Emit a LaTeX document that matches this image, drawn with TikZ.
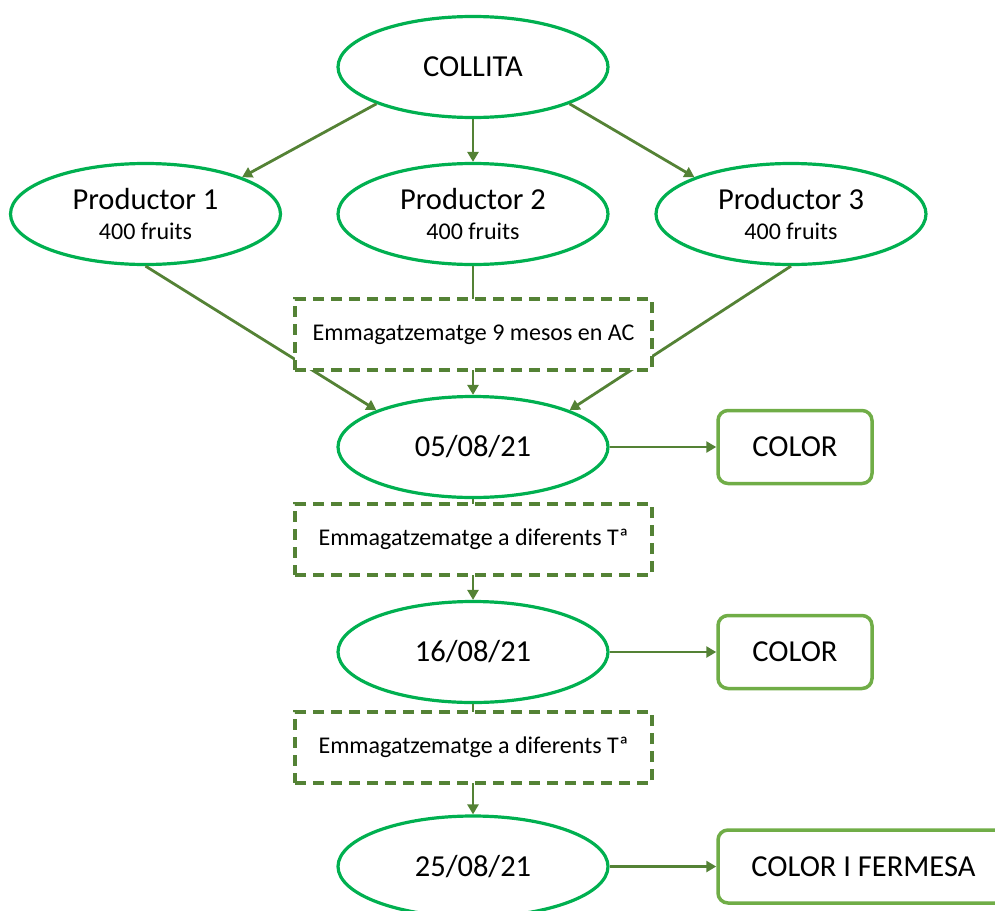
\documentclass[tikz,border=0pt]{standalone}
\usepackage{fontspec}
\setmainfont{Carlito}
\usetikzlibrary{shapes.geometric,arrows.meta}
\definecolor{ellgreen}{HTML}{00B050}
\definecolor{boxgreen}{HTML}{70AD47}
\definecolor{arrgreen}{HTML}{548235}
\tikzset{
  ell/.style={ellipse, draw=ellgreen, line width=3.2pt, fill=white,
    minimum width=270pt, minimum height=101pt, inner sep=0pt,
    font=\fontsize{30.5}{30}\selectfont, align=center},
  prod/.style={ell, font=\fontsize{24}{30}\selectfont},
  dbox/.style={draw=arrgreen, line width=3.2pt, dash pattern=on 11pt off 7pt,
    fill=white, minimum width=357pt, minimum height=71pt, inner sep=0pt,
    font=\fontsize{24}{28}\selectfont},
  rbox/.style={draw=boxgreen, line width=3.5pt, rounded corners=10pt, fill=white,
    minimum height=73pt, inner sep=0pt, font=\fontsize{30.5}{36}\selectfont},
  conn/.style={draw=arrgreen, line width=2.8pt},
  arr/.style={conn, -{Triangle[length=10pt,width=11pt]}}
}
\begin{document}
\begin{tikzpicture}[x=1pt,y=-1pt]
\useasboundingbox (0,0) rectangle (995,910);
% ellipses
\node[ell] (col) at (473,67) {COLLITA};
\node[prod] (p1) at (145.5,214) {{\fontsize{30.5}{30}\selectfont Productor 1}\\400 fruits};
\node[prod] (p2) at (473,214) {{\fontsize{30.5}{30}\selectfont Productor 2}\\400 fruits};
\node[prod] (p3) at (791,214) {{\fontsize{30.5}{30}\selectfont Productor 3}\\400 fruits};
\node[ell] (d1) at (473,447) {05/08/21};
\node[ell] (d2) at (473,652) {16/08/21};
\node[ell] (d3) at (473,866.5) {25/08/21};
% result boxes
\node[rbox, minimum width=154pt] (c1) at (795,447) {COLOR};
\node[rbox, minimum width=154pt] (c2) at (795,652) {COLOR};
\node[rbox, minimum width=291pt] (c3) at (863.5,866.5) {COLOR I FERMESA};
% connectors
\draw[arr] (col.south west) -- (p1.north east);
\draw[arr] (col.south) -- (p2.north);
\draw[arr] (col.south east) -- (p3.north west);
\draw[arr] (p1.south) -- (d1.north west);
\draw[arr] (p2.south) -- (d1.north);
\draw[arr] (p3.south) -- (d1.north east);
\draw[arr] (d1.south) -- (d2.north);
\draw[arr] (d2.south) -- (d3.north);
\draw[arr] (d1.east) -- (c1.west);
\draw[arr] (d2.east) -- (c2.west);
\draw[arr] (d3.east) -- (c3.west);
% dashed boxes on top of the connectors
\node[dbox] (b1) at (473.5,334.5) {Emmagatzematge 9 mesos en AC};
\node[dbox] (b2) at (473.5,539.5) {Emmagatzematge a diferents Tª};
\node[dbox] (b3) at (473.5,747.5) {Emmagatzematge a diferents Tª};
\end{tikzpicture}
\end{document}
